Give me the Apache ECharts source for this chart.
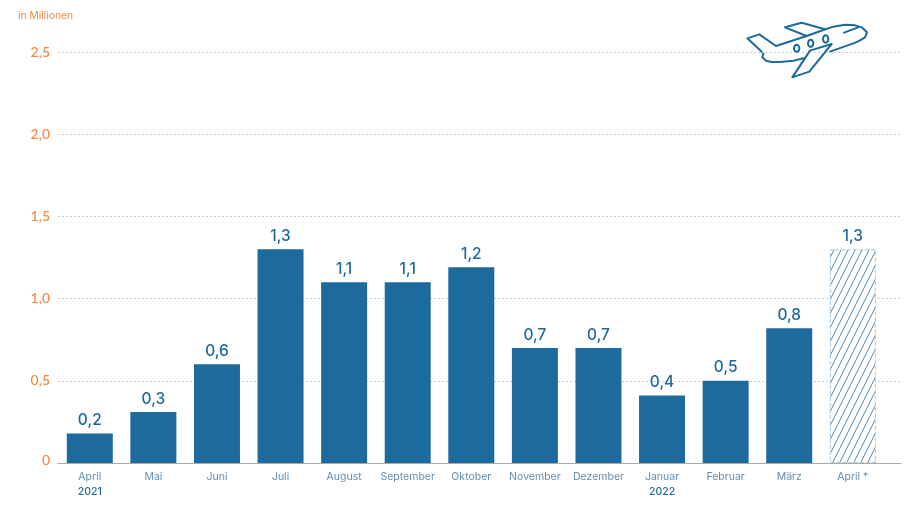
<!DOCTYPE html>
<html><head><meta charset="utf-8">
<style>html,body{margin:0;padding:0;background:#fff}#c{width:904px;height:513px}</style>
<script src="https://cdn.jsdelivr.net/npm/echarts@6/dist/echarts.min.js"></script>
</head><body><div id="c"></div>
<script>
const categories = ['April\n{y|2021}','Mai','Juni','Juli','August','September','Oktober','November','Dezember','Januar\n{y|2022}','Februar','März','April *'];
const passengers = [0.18,0.31,0.6,1.3,1.1,1.1,1.19,0.7,0.7,0.41,0.5,0.82];
const forecastValue = 1.3;
const unitLabel = 'in Millionen';

const BLUE = '#1d6a9c', ORANGE = '#f5883c', FONT = 'Inter';
function hatch(){
  const s = 7, c = document.createElement('canvas');
  c.width = s; c.height = s * 2;
  const g = c.getContext('2d');
  g.fillStyle = '#fff'; g.fillRect(0,0,s,s*2);
  g.strokeStyle = '#4f8ab5'; g.lineWidth = 1;
  for (let i = -1; i <= 1; i++){
    g.beginPath(); g.moveTo(i*s, s*2); g.lineTo(i*s + s, 0); g.stroke();
  }
  return c;
}
const values = passengers.map(v => v).concat([{
  value: forecastValue,
  itemStyle:{color:{image:hatch(),repeat:'repeat'},borderColor:'#a9c6dc',borderWidth:1,borderType:'dashed'}
}]);
const LINE = {fill:null,stroke:BLUE,lineWidth:6,lineJoin:'round',lineCap:'round'};
const line = pts => ({type:'polyline',shape:{points:pts},style:LINE});
const oval = (cx,cy) => ({type:'ellipse',shape:{cx:cx,cy:cy,rx:8,ry:11},style:LINE});
const planeParts = [
  line([[100,130],[52,85],[88,73],[138,108],[230,78],[280,60],[310,50],[345,44],[375,46],[395,52],[411,67],[405,82],[385,94],[370,100],[300,125]]),
  line([[100,130],[97,142],[108,152],[125,156],[150,156],[190,152],[220,145]]),
  line([[230,78],[165,52],[215,38],[285,58]]),
  line([[240,122],[305,102],[238,185],[187,202],[240,122]]),
  line([[342,68],[385,52]]),
  oval(200,115), oval(242,100), oval(287,87)
];

const chart = echarts.init(document.getElementById('c'),null,{renderer:'canvas'});
chart.setOption({
  animation:false,
  backgroundColor:'#fff',
  textStyle:{fontFamily:FONT},
  grid:[
    {left:58,top:52,width:826.6,height:411},
    {left:58,top:52,width:843,height:411}
  ],
  xAxis:[
    {type:'category',gridIndex:0,data:categories,axisLine:{show:false},axisTick:{show:false},
     axisLabel:{interval:0,color:'#5f8fb3',fontSize:10.5,fontFamily:FONT,margin:6,lineHeight:15,
       rich:{y:{color:BLUE,fontSize:10.5,fontWeight:500,fontFamily:FONT,lineHeight:15}}}},
    {type:'value',gridIndex:1,min:0,max:1,axisTick:{show:false},axisLabel:{show:false},splitLine:{show:false},
     axisLine:{show:true,lineStyle:{color:'#aaaaaa',width:1}}}
  ],
  yAxis:[
    {type:'value',gridIndex:0,min:0,max:2.5,interval:0.5,axisLine:{show:false},axisTick:{show:false},
     splitLine:{show:false},
     axisLabel:{margin:8,color:ORANGE,fontSize:14,fontWeight:500,fontFamily:'Lato',
       formatter:v=>v===0?'{z|0}':v.toFixed(1).replace('.',','),
       rich:{z:{color:ORANGE,fontSize:14,fontWeight:500,fontFamily:'Lato',padding:[0,0,6,0]}}}},
    {type:'value',gridIndex:1,min:0,max:2.5,interval:0.5,axisLine:{show:false},axisTick:{show:false},axisLabel:{show:false},
     splitLine:{show:true,lineStyle:{color:'#cfcfcf',type:[2,2],width:1}}}
  ],
  series:[
    {type:'line',xAxisIndex:1,yAxisIndex:1,data:[],silent:true},
    {type:'bar',xAxisIndex:0,yAxisIndex:0,data:values,barWidth:46,z:3,
     itemStyle:{color:BLUE},
     label:{show:true,position:'top',distance:5,color:BLUE,fontSize:15.5,fontWeight:500,fontFamily:FONT,
       formatter:p=>Number(p.value).toFixed(1).replace('.',',')}}
  ],
  graphic:[
    {type:'text',x:18,y:11,style:{text:unitLabel,fill:ORANGE,font:'10.3px '+FONT}},
    {type:'group',x:730,y:10,scaleX:1/3,scaleY:1/3,children:planeParts}
  ]
});
</script></body></html>
